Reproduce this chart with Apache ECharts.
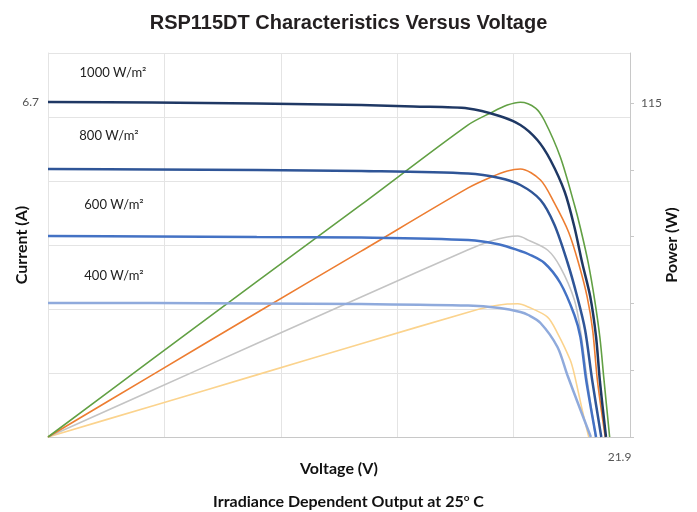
<!DOCTYPE html>
<html>
<head>
<meta charset="utf-8">
<script src="https://cdn.jsdelivr.net/npm/echarts@6/dist/echarts.min.js"></script>
<style>
  html, body { margin: 0; padding: 0; background: #fff; }
  #chart { width: 697px; height: 512px; }
</style>
</head>
<body>
<div id="chart"></div>
<script>
// [voltage, current] / [voltage, power]
var current1000 = [[0,6.70],[4,6.69],[8,6.67],[12,6.64],[14,6.61],[16.1,6.57],[17.3,6.42],[18.1,6.24],[18.75,5.94],[19.25,5.54],[19.8,4.9],[20.17,4.2],[20.47,3.48],[20.78,2.8],[21.0,2.0],[21.15,1.1],[21.38,0]];
var current800 = [[0,5.36],[4,5.35],[8,5.34],[12,5.32],[16.1,5.27],[17.3,5.18],[18.1,5.04],[18.87,4.74],[19.4,4.25],[19.9,3.5],[20.28,2.8],[20.58,2.14],[20.85,1.14],[21.2,0]];
var current600 = [[0,4.02],[4,4.01],[8,4.0],[12,3.99],[16.1,3.94],[17.3,3.85],[18.1,3.72],[18.4,3.66],[19.02,3.48],[19.63,3.08],[20.17,2.44],[20.4,2.0],[20.62,1.14],[21.0,0]];
var current400 = [[0,2.68],[4,2.68],[8,2.67],[12,2.66],[16.1,2.63],[17.3,2.58],[18.1,2.5],[18.4,2.44],[18.87,2.28],[19.52,1.8],[19.9,1.24],[20.36,0.6],[20.8,0]];

var power1000 = [[0,0],[4,26.8],[8,53.5],[12,80],[16.1,107.5],[17,111.8],[17.6,114.3],[18.1,115.3],[18.68,113.3],[19.02,109],[19.63,96.4],[20.17,80],[20.4,72],[20.7,60],[20.95,47],[21.15,34],[21.3,20],[21.52,0]];
var power800 = [[0,0],[4,21.4],[8,42.8],[12,64],[16.1,85.8],[17,89.6],[17.6,91.6],[18.1,92.3],[18.87,88.5],[19.4,80.6],[19.95,70.5],[20.34,59.5],[20.66,48.2],[20.87,36.8],[21.05,19.6],[21.35,0]];
var power600 = [[0,0],[4,16.1],[8,32.2],[12,48.2],[16.1,64.5],[17,67.6],[17.6,68.9],[18.0,69.2],[18.4,67.8],[19.14,64.4],[19.63,58.5],[20.17,47.2],[20.4,36.8],[20.66,19.6],[20.98,0]];
var power400 = [[0,0],[4,10.7],[8,21.4],[12,32.1],[16.1,43],[17,45],[17.6,45.8],[18,45.9],[18.4,44.8],[19.14,41.3],[19.52,35.8],[20.01,26.5],[20.17,21.5],[20.47,9.3],[20.72,0]];

var irradianceLabels = ['1000 W/m²', '800 W/m²', '600 W/m²', '400 W/m²'];
var currentTicks = [6.7];
var powerTicks = [0, 23, 46, 69, 92, 115];
var powerLabels = [115];
var voltageLabels = [21.9];

var chart = echarts.init(document.getElementById('chart'));

function line(name, data, color, width, axis) {
    return {
        name: name,
        type: 'line',
        yAxisIndex: axis,
        data: data,
        smooth: 0.3,
        showSymbol: false,
        silent: true,
        lineStyle: { color: color, width: width }
    };
}

var labelFont = { fontFamily: 'Lato', fontSize: 13, fill: '#222' };
var nameFont = { fontFamily: 'Lato', fontSize: 16, fontWeight: 'bold', color: '#111' };

var option = {
    animation: false,
    title: [
        {
            text: 'RSP115DT Characteristics Versus Voltage',
            left: 'center',
            top: 8,
            textStyle: { fontFamily: 'Liberation Sans', fontSize: 20, fontWeight: 'bold', color: '#231f20' }
        },
        {
            text: '{n|Irradiance Dependent Output at 25}{s|o}{n| C}',
            left: 'center',
            top: 493,
            padding: 0,
            textStyle: {
                rich: {
                    n: { fontFamily: 'Lato', fontSize: 16, fontWeight: 'bold', color: '#111', lineHeight: 18 },
                    s: { fontFamily: 'Lato', fontSize: 10, fontWeight: 'bold', color: '#111', verticalAlign: 'top', lineHeight: 12 }
                }
            }
        }
    ],
    grid: { left: 48, right: 67, top: 53, bottom: 75, outerBoundsMode: 'none', containLabel: false },
    xAxis: {
        type: 'value',
        min: 0,
        max: 22.3,
        interval: 4.46,
        name: 'Voltage (V)',
        nameLocation: 'middle',
        nameGap: 24,
        nameMoveOverlap: false,
        nameTextStyle: nameFont,
        axisLine: { show: true, lineStyle: { color: '#c8c8c8' } },
        axisTick: { show: false },
        axisLabel: {
            customValues: voltageLabels,
            margin: 14,
            fontFamily: 'Lato',
            fontSize: 12,
            color: '#555',
            formatter: function (v) { return v.toFixed(1); }
        },
        splitLine: { show: true, lineStyle: { color: '#e4e4e4' } }
    },
    yAxis: [
        {
            type: 'value',
            min: 0,
            max: 7.68,
            interval: 1.28,
            name: 'Current (A)',
            nameLocation: 'middle',
            nameRotate: 90,
            nameGap: 18,
            nameMoveOverlap: false,
            nameTextStyle: nameFont,
            axisLine: { show: true, lineStyle: { color: '#e4e4e4' } },
            axisTick: { show: false },
            axisLabel: {
                customValues: currentTicks,
                margin: 9,
                fontFamily: 'Lato',
                fontSize: 12,
                color: '#555',
                formatter: function (v) { return v.toFixed(1); }
            },
            splitLine: { show: true, lineStyle: { color: '#e4e4e4' } }
        },
        {
            type: 'value',
            min: 0,
            max: 132.25,
            name: 'Power (W)',
            nameLocation: 'middle',
            nameRotate: 90,
            nameGap: 34,
            nameMoveOverlap: false,
            nameTextStyle: nameFont,
            axisLine: { show: true, lineStyle: { color: '#c8c8c8' } },
            axisTick: { show: true, customValues: powerTicks, length: 4, lineStyle: { color: '#c8c8c8' } },
            axisLabel: {
                customValues: powerLabels,
                margin: 11,
                fontFamily: 'Lato',
                fontSize: 12,
                color: '#555'
            },
            splitLine: { show: false }
        }
    ],
    graphic: [
        { type: 'text', x: 113, y: 73, style: Object.assign({ text: irradianceLabels[0], align: 'center', verticalAlign: 'middle' }, labelFont) },
        { type: 'text', x: 109, y: 136, style: Object.assign({ text: irradianceLabels[1], align: 'center', verticalAlign: 'middle' }, labelFont) },
        { type: 'text', x: 114, y: 205, style: Object.assign({ text: irradianceLabels[2], align: 'center', verticalAlign: 'middle' }, labelFont) },
        { type: 'text', x: 114, y: 276, style: Object.assign({ text: irradianceLabels[3], align: 'center', verticalAlign: 'middle' }, labelFont) }
    ],
    series: [
        line('P 400', power400, '#fbd38d', 1.6, 1),
        line('P 600', power600, '#c4c4c4', 1.6, 1),
        line('P 800', power800, '#ed7d31', 1.6, 1),
        line('P 1000', power1000, '#62a044', 1.6, 1),
        line('I 400', current400, '#8faadc', 2.5, 0),
        line('I 600', current600, '#4472c4', 2.5, 0),
        line('I 800', current800, '#2f5597', 2.5, 0),
        line('I 1000', current1000, '#1f3864', 2.5, 0)
    ]
};

chart.setOption(option);
</script>
</body>
</html>
